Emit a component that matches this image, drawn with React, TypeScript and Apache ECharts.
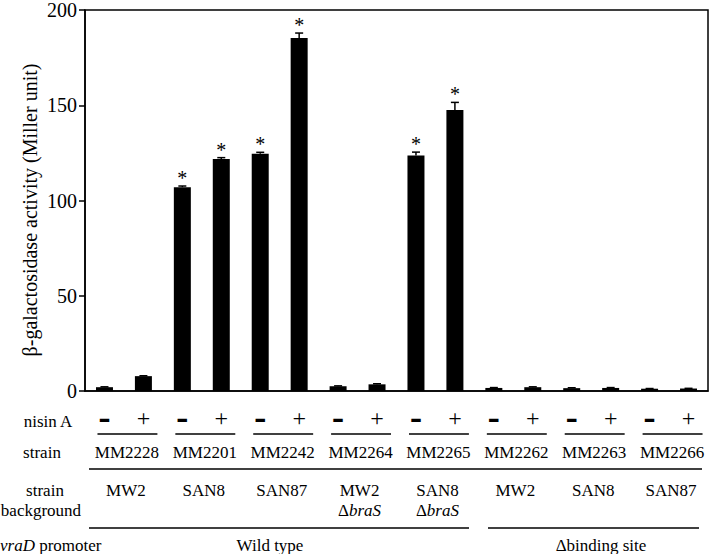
import React, { useEffect, useRef } from "react";
import * as echarts from "echarts";

const strains = ["MM2228", "MM2201", "MM2242", "MM2264", "MM2265", "MM2262", "MM2263", "MM2266"];
const backgrounds: string[][] = [
  ["MW2"], ["SAN8"], ["SAN87"], ["MW2", "Δ|braS"], ["SAN8", "Δ|braS"], ["MW2"], ["SAN8"], ["SAN87"],
];
const nisin = ["–", "+"];
const values = [2.0, 7.8, 107.0, 121.8, 124.5, 185.3, 2.5, 3.5, 123.6, 147.5, 1.6, 2.0, 1.5, 1.6, 1.2, 1.3];
const errors = [0.2, 0.2, 0.6, 0.7, 0.8, 2.6, 0.2, 0.3, 1.8, 4.0, 0.2, 0.2, 0.2, 0.2, 0.1, 0.1];
const significant = [0, 0, 1, 1, 1, 1, 0, 0, 1, 1, 0, 0, 0, 0, 0, 0];
const yMin = 0;
const yMax = 200;
const yInterval = 50;
const yAxisTitle = "β-galactosidase activity (Miller unit)";
const promoterGroups = ["Wild type", "Δbinding site"];

const SERIF = "Liberation Serif";

export default function App() {
  const ref = useRef<HTMLDivElement>(null);
  useEffect(() => {
    if (!ref.current) return;
    const chart = echarts.init(ref.current, undefined, { renderer: "svg" });
    const categories: string[] = [];
    strains.forEach((s) => nisin.forEach((n) => categories.push(s + " " + n)));

    chart.setOption({
      animation: false,
      textStyle: { fontFamily: SERIF },
      grid: {
        left: 85, right: 1, top: 7, bottom: 163,
        show: true, borderColor: "#000", borderWidth: 1.5, backgroundColor: "transparent",
      },
      xAxis: {
        type: "category",
        data: categories,
        axisLine: { lineStyle: { color: "#000", width: 1.5 } },
        axisTick: { show: false },
        axisLabel: { show: false },
      },
      yAxis: {
        type: "value",
        min: yMin, max: yMax, interval: yInterval,
        axisLine: { show: true, lineStyle: { color: "#000", width: 1.5 } },
        axisTick: { show: true, length: 6, lineStyle: { color: "#000", width: 1.5 } },
        axisLabel: { color: "#000", fontSize: 20, fontFamily: SERIF, margin: 8 },
        splitLine: { show: false },
      },
      series: [
        {
          type: "bar",
          data: values,
          barWidth: 17,
          itemStyle: { color: "#000" },
        },
        {
          type: "custom",
          data: values.map((v, i) => [i, v, errors[i], significant[i]]),
          renderItem: (params: any, api: any) => {
            const x = api.value(0);
            const v = api.value(1);
            const e = api.value(2);
            const s = api.value(3);
            const base = api.coord([x, v]);
            const top = api.coord([x, v + e]);
            const children: any[] = [
              { type: "line", shape: { x1: base[0], y1: base[1], x2: top[0], y2: top[1] }, style: { stroke: "#000", lineWidth: 1.5 } },
              { type: "line", shape: { x1: top[0] - 4, y1: top[1], x2: top[0] + 4, y2: top[1] }, style: { stroke: "#000", lineWidth: 1.5 } },
            ];
            if (s) {
              children.push({
                type: "text",
                style: {
                  text: "*", x: top[0], y: top[1] - 8, align: "center", verticalAlign: "middle",
                  fontSize: 20, fontFamily: SERIF, fill: "#000",
                },
              });
            }
            return { type: "group", children };
          },
          z: 3,
        },
      ],
    });

    const c: number[] = categories.map((_, i) => chart.convertToPixel({ xAxisIndex: 0 }, i) as number);
    const g: any[] = [];
    const txt = (text: string, x: number, y: number, extra: any = {}) => ({
      type: "text",
      style: { text, x, y, align: "center", verticalAlign: "middle", fontSize: 17, fontFamily: SERIF, fill: "#000", ...extra },
    });
    const hline = (x1: number, x2: number, y: number) => ({
      type: "line", shape: { x1, y1: y, x2, y2: y }, style: { stroke: "#000", lineWidth: 1.5 },
    });

    g.push({
      type: "text", x: 30, y: 210, rotation: Math.PI / 2,
      style: { text: yAxisTitle, align: "center", verticalAlign: "middle", fontSize: 20, fontFamily: SERIF, fill: "#000" },
    });

    g.push(txt("nisin A", 48, 421));
    categories.forEach((_, i) => {
      const n = nisin[i % 2];
      if (i % 2 === 0) g.push(txt(n, c[i], 419, { fontSize: 24, fontWeight: "bold", fontFamily: "DejaVu Sans" }));
      else g.push(txt(n, c[i], 418, { fontSize: 24 }));
    });
    strains.forEach((s, k) => {
      const a = c[2 * k];
      const b = c[2 * k + 1];
      const gc = (a + b) / 2;
      g.push(hline(a - 7, b + 14, 434));
      g.push(txt(s, gc + 3, 452));
      const bg = backgrounds[k];
      g.push(txt(bg[0], gc + 2, 490));
      if (bg[1]) {
        const [d, it] = bg[1].split("|");
        g.push({
          type: "text",
          style: {
            text: "{n|" + d + "}{i|" + it + "}", x: gc + 2, y: 510, align: "center", verticalAlign: "middle",
            fontSize: 17, fontFamily: SERIF, fill: "#000",
            rich: { n: { fontSize: 17, fontFamily: SERIF }, i: { fontSize: 17, fontFamily: SERIF, fontStyle: "italic" } },
          },
        });
      }
    });
    g.push(txt("strain", 42, 452));
    g.push(hline(89, 702, 469));
    g.push(txt("strain", 45, 490));
    g.push(txt("background", 41, 510));
    g.push(hline(89, 469, 528));
    g.push(hline(488, 699, 528));
    g.push({
      type: "text",
      style: {
        text: "{i|vraD}{n| promoter}", x: 0, y: 545, align: "left", verticalAlign: "middle",
        fontSize: 17, fontFamily: SERIF, fill: "#000",
        rich: { n: { fontSize: 17, fontFamily: SERIF }, i: { fontSize: 17, fontFamily: SERIF, fontStyle: "italic" } },
      },
    });
    g.push(txt(promoterGroups[0], 270, 545));
    g.push(txt(promoterGroups[1], 601, 545));

    chart.setOption({ graphic: g });
    return () => chart.dispose();
  }, []);
  return <div ref={ref} style={{ position: "fixed", left: 0, top: 0, width: 709, height: 554, background: "#fff" }} />;
}
